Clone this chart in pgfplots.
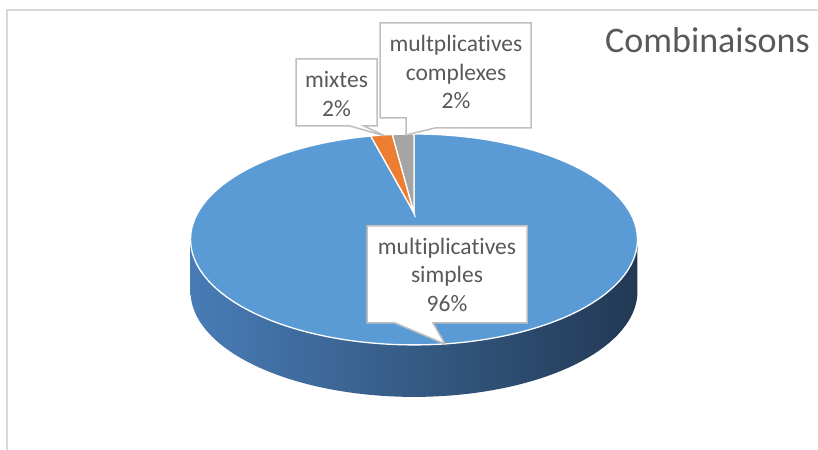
\documentclass[border=0pt]{standalone}
\usepackage{pgfplots}
\pgfplotsset{compat=1.18}
\usepackage{pgfplotstable}
\usepackage{fontspec}
\setmainfont[Ligatures={NoCommon,NoRare},Contextuals={NoAlternate}]{Carlito}
\definecolor{pieblue}{RGB}{91,155,213}
\definecolor{pieorange}{RGB}{237,125,49}
\definecolor{piegrey}{RGB}{165,165,165}
\definecolor{sideL}{RGB}{72,124,182}
\definecolor{sideM}{RGB}{51,88,131}
\definecolor{sideR}{RGB}{34,57,84}
\definecolor{txtgrey}{RGB}{89,89,89}
\definecolor{boxgrey}{RGB}{191,191,191}
\definecolor{framegrey}{RGB}{217,217,217}

\pgfplotstableread{
part value
1 96
2 2
3 2
}\piedata

\begin{document}%
\begin{tikzpicture}
\pgfplotstablegetelem{0}{value}\of\piedata \let\va\pgfplotsretval
\pgfplotstablegetelem{1}{value}\of\piedata \let\vb\pgfplotsretval
\pgfplotstablegetelem{2}{value}\of\piedata \let\vc\pgfplotsretval
\pgfmathsetmacro\tot{\va+\vb+\vc}
\pgfmathsetmacro\unit{360/\tot}
\pgfmathsetmacro\aA{90-\unit*\va}
\pgfmathsetmacro\aB{\aA-\unit*\vb}
\pgfmathsetmacro\aC{\aB-\unit*\vc}
\begin{axis}[
  width=818bp, height=450bp, scale only axis,
  xmin=0, xmax=818, ymin=0, ymax=450,
  hide axis, clip=false,
  declare function={
    px(\t)=414+216.3*cos(\t)/(1+0.251*sin(\t));
    py(\t)=(158.3*sin(\t)+237)/(1+0.251*sin(\t));
  },
]
\coordinate (BL) at (axis cs:0,0);
\coordinate (TR) at (axis cs:818,450);
% frame
\draw[framegrey, line width=2bp] (axis cs:6.5,0) -- (axis cs:6.5,440) -- (axis cs:818,440);
% side of the cylinder
\addplot[draw=none, left color=sideL, middle color=sideM, right color=sideR,
  domain=194.54:345.46, samples=120, variable=\t]
  ({px(t)},{py(t)-52}) -- (axis cs:637.5,210.5) -- (axis cs:190.5,210.5) -- cycle;
% top face slices
\addplot[fill=pieblue, draw=white, line width=1.3bp, domain=\aA:90, samples=240, variable=\t]
  ({px(t)},{py(t)}) -- (axis cs:414,237) -- cycle;
\addplot[fill=pieorange, draw=white, line width=1.3bp, domain=\aB:\aA, samples=12, variable=\t]
  ({px(t)},{py(t)}) -- (axis cs:414,237) -- cycle;
\addplot[fill=piegrey, draw=white, line width=1.3bp, domain=\aC:\aB, samples=12, variable=\t]
  ({px(t)},{py(t)}) -- (axis cs:414,237) -- cycle;
% callouts
\filldraw[fill=white, draw=boxgrey, line width=1.5bp]
  (axis cs:367,224) -- (axis cs:527,224) -- (axis cs:527,127) -- (axis cs:433,127)
  -- (axis cs:445,106) -- (axis cs:395,127) -- (axis cs:367,127) -- cycle;
\filldraw[fill=white, draw=boxgrey, line width=1.5bp]
  (axis cs:296,391) -- (axis cs:377,391) -- (axis cs:377,324) -- (axis cs:364,324)
  -- (axis cs:385,314) -- (axis cs:350,324) -- (axis cs:296,324) -- cycle;
\filldraw[fill=white, draw=boxgrey, line width=1.5bp]
  (axis cs:380,427) -- (axis cs:531,427) -- (axis cs:531,322) -- (axis cs:435,322)
  -- (axis cs:406,315) -- (axis cs:406,332) -- (axis cs:380,332) -- cycle;
\node[align=center, text=txtgrey, font=\fontsize{23.5bp}{28.5bp}\selectfont]
  at (axis cs:447,175.5) {multiplicatives\\simples\\96\%};
\node[align=center, text=txtgrey, font=\fontsize{23.5bp}{28.5bp}\selectfont]
  at (axis cs:336.5,356) {mixtes\\2\%};
\node[align=center, text=txtgrey, font=\fontsize{23.5bp}{28.5bp}\selectfont]
  at (axis cs:456,378) {multplicatives\\complexes\\2\%};
\node[anchor=base west, text=txtgrey, font=\fontsize{36bp}{43bp}\selectfont, inner sep=0pt]
  at (axis cs:605,397) {Combinaisons};
\end{axis}
\pgfresetboundingbox
\useasboundingbox (BL) rectangle (TR);
\end{tikzpicture}%
\end{document}
